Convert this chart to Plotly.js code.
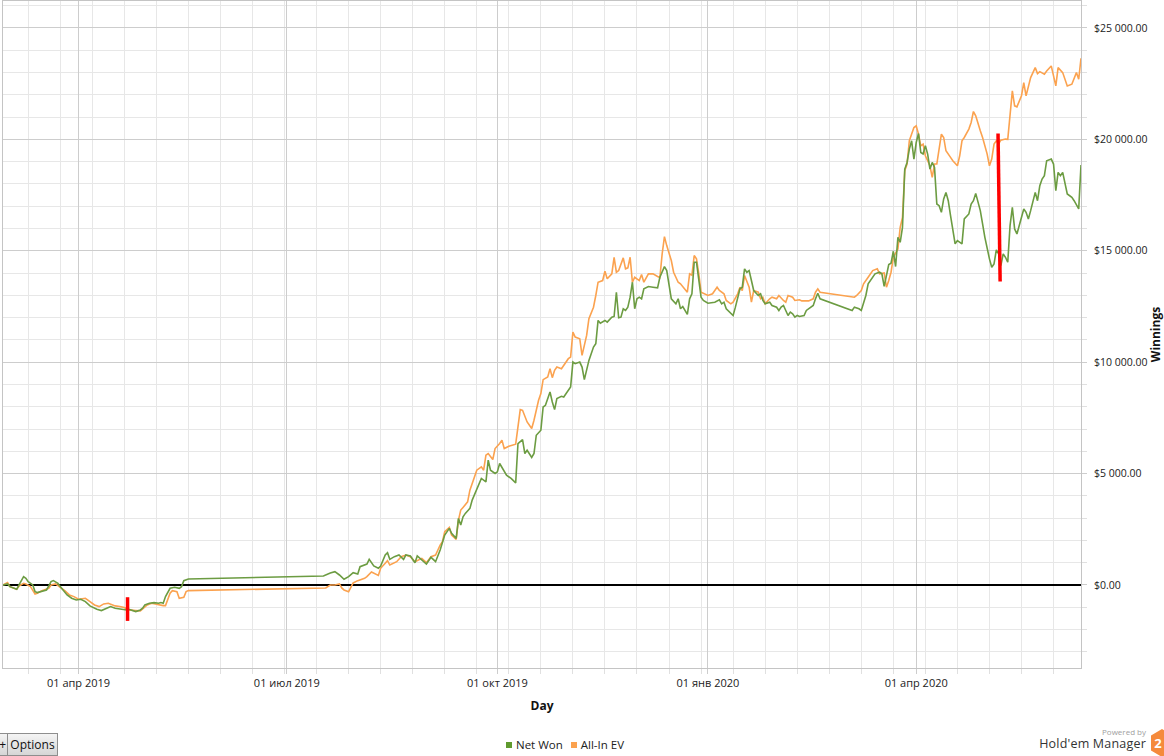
<!DOCTYPE html>
<html>
<head>
<meta charset="utf-8">
<script src="https://cdn.plot.ly/plotly-3.0.1.min.js"></script>
<style>
  html, body { margin: 0; padding: 0; background: #fff; overflow: hidden; }
  #wrap { position: relative; width: 1164px; height: 756px; overflow: hidden; }
  #chart { position: absolute; left: 0; top: 0; width: 1164px; height: 756px; }
  .btn { position: absolute; top: 733px; height: 23px; border: 1px solid #8e8e8e;
         background: linear-gradient(#f4f4f4, #d6d6d6); font-family: "Open Sans", sans-serif;
         font-size: 12px; color: #111; line-height: 21px; box-sizing: border-box; }
  #plusbtn { left: -12px; width: 20px; text-align: right; padding-right: 1px; }
  #optbtn { left: 7px; width: 51px; text-align: center; }
  #legend { position: absolute; left: 506px; top: 737px; font-family: "Open Sans", sans-serif;
            font-size: 11.5px; color: #222; white-space: nowrap; }
  #legend .sw { display: inline-block; width: 6px; height: 6px; margin-right: 4px; vertical-align: 1px; }
  #legend .item { margin-right: 8px; }
  #powered { position: absolute; right: 18px; top: 726px; font-family: "Open Sans", sans-serif;
             font-size: 8px; color: #a0a0a0; }
  #hem { position: absolute; right: 18px; top: 735px; font-family: "Open Sans", sans-serif;
         font-size: 12.5px; color: #333; letter-spacing: 0.2px; }
  #logo { position: absolute; left: 1150px; top: 728px; }
</style>
</head>
<body>
<div id="wrap">
  <div id="chart"></div>
  <div class="btn" id="plusbtn">+</div>
  <div class="btn" id="optbtn">Options</div>
  <div id="legend"></div>
  <div id="powered">Powered by</div>
  <div id="hem">Hold'em Manager</div>
  <svg id="logo" width="24" height="30" viewBox="0 0 24 30">
    <polygon points="12,1 23,7.5 23,22.5 12,29 1,22.5 1,7.5" fill="#f58a3c"/>
    <text x="8" y="20" text-anchor="middle" font-family="Open Sans, sans-serif" font-weight="bold" font-size="13" fill="#fff">2</text>
  </svg>
</div>
<script>
// ---------- DATA ----------
const netWonDates = [
  '2019-02-27','2019-03-01','2019-03-02','2019-03-05','2019-03-06','2019-03-07','2019-03-08','2019-03-09','2019-03-10','2019-03-12','2019-03-13','2019-03-14','2019-03-16','2019-03-18','2019-03-19','2019-03-20','2019-03-21','2019-03-23','2019-03-24','2019-03-26','2019-03-27','2019-03-29','2019-03-31',
  '2019-04-02','2019-04-04','2019-04-06','2019-04-09','2019-04-11','2019-04-13','2019-04-15','2019-04-17','2019-04-20','2019-04-22','2019-04-23','2019-04-25','2019-04-26','2019-04-28','2019-04-29','2019-04-30',
  '2019-05-02','2019-05-04','2019-05-06','2019-05-07','2019-05-08','2019-05-09','2019-05-10','2019-05-11','2019-05-13','2019-05-15','2019-05-16','2019-05-17','2019-05-19',
  '2019-07-17','2019-07-20','2019-07-22','2019-07-24','2019-07-26','2019-07-28','2019-07-30',
  '2019-08-01','2019-08-02','2019-08-05','2019-08-06','2019-08-08','2019-08-10','2019-08-11','2019-08-13','2019-08-14','2019-08-15','2019-08-17','2019-08-19','2019-08-21','2019-08-22','2019-08-24','2019-08-26','2019-08-27','2019-08-29','2019-08-31',
  '2019-09-02','2019-09-04','2019-09-06','2019-09-07','2019-09-08','2019-09-10','2019-09-11','2019-09-13','2019-09-14','2019-09-15','2019-09-16','2019-09-17','2019-09-19','2019-09-20','2019-09-22','2019-09-23','2019-09-24','2019-09-26','2019-09-27','2019-09-28','2019-09-30',
  '2019-10-01','2019-10-02','2019-10-05','2019-10-07','2019-10-09','2019-10-10','2019-10-12','2019-10-13','2019-10-14','2019-10-16','2019-10-17','2019-10-18','2019-10-20','2019-10-21','2019-10-22','2019-10-24','2019-10-25','2019-10-26','2019-10-27','2019-10-29','2019-10-30',
  '2019-11-01','2019-11-02','2019-11-03','2019-11-04','2019-11-06','2019-11-07','2019-11-08','2019-11-10','2019-11-12','2019-11-13','2019-11-14','2019-11-15','2019-11-17','2019-11-18','2019-11-20','2019-11-21','2019-11-22','2019-11-23','2019-11-24','2019-11-25','2019-11-26','2019-11-27','2019-11-28','2019-11-29','2019-11-30',
  '2019-12-01','2019-12-02','2019-12-03','2019-12-04','2019-12-06','2019-12-08','2019-12-10','2019-12-11','2019-12-13','2019-12-14','2019-12-15','2019-12-16','2019-12-18','2019-12-19','2019-12-20','2019-12-21','2019-12-23','2019-12-24','2019-12-25','2019-12-26','2019-12-27','2019-12-28','2019-12-29','2019-12-30',
  '2020-01-01','2020-01-04','2020-01-06','2020-01-07','2020-01-08','2020-01-09','2020-01-11','2020-01-12','2020-01-13','2020-01-14','2020-01-15','2020-01-16','2020-01-17','2020-01-18','2020-01-19','2020-01-20','2020-01-21','2020-01-23','2020-01-24','2020-01-25','2020-01-26','2020-01-28','2020-01-29','2020-01-31',
  '2020-02-01','2020-02-02','2020-02-03','2020-02-04','2020-02-05','2020-02-06','2020-02-07','2020-02-08','2020-02-09','2020-02-10','2020-02-12','2020-02-13','2020-02-14','2020-02-16','2020-02-17','2020-02-18','2020-02-19',
  '2020-03-04','2020-03-05','2020-03-07','2020-03-08','2020-03-10','2020-03-11','2020-03-13','2020-03-14','2020-03-16','2020-03-17','2020-03-18','2020-03-20','2020-03-21','2020-03-22','2020-03-23','2020-03-24','2020-03-25','2020-03-26','2020-03-27','2020-03-28','2020-03-29','2020-03-30','2020-03-31',
  '2020-04-01','2020-04-02','2020-04-03','2020-04-04','2020-04-05','2020-04-06','2020-04-07','2020-04-08','2020-04-09','2020-04-10','2020-04-11','2020-04-12','2020-04-13','2020-04-14','2020-04-15','2020-04-16','2020-04-17','2020-04-18','2020-04-19','2020-04-21','2020-04-22','2020-04-24','2020-04-25','2020-04-26','2020-04-27','2020-04-29','2020-04-30',
  '2020-05-01','2020-05-03','2020-05-04','2020-05-05','2020-05-06','2020-05-07','2020-05-08','2020-05-09','2020-05-10','2020-05-11','2020-05-12','2020-05-13','2020-05-14','2020-05-15','2020-05-17','2020-05-18','2020-05-19','2020-05-20','2020-05-21','2020-05-22','2020-05-23','2020-05-24','2020-05-25','2020-05-26','2020-05-27','2020-05-28','2020-05-30','2020-05-31',
  '2020-06-01','2020-06-02','2020-06-03','2020-06-04','2020-06-05','2020-06-06','2020-06-08','2020-06-09','2020-06-11','2020-06-12'
];
const netWonValues = [
  0,45,-75,-194,0,194,373,299,149,0,-299,-343,-299,-224,-45,149,194,75,-75,-299,-448,-597,-672,
  -642,-746,-940,-1090,-1150,-1045,-970,-1045,-1075,-1120,-1090,-1150,-1195,-1120,-1045,-896,
  -821,-791,-821,-791,-821,-523,-299,-149,-105,-149,-75,194,269,
  403,538,597,448,254,372,553,
  493,822,941,1150,851,747,851,1344,1448,1150,1270,1344,1150,1344,1300,1000,1300,1120,941,
  1240,1045,1568,1866,2240,2540,2316,2092,2988,2688,3060,3212,3436,3808,4332,4556,4780,4628,5600,5152,5004,
  5076,5452,4928,4780,4583,6348,6527,5900,6048,5721,5900,6720,6944,7988,8064,8660,8212,7870,8364,8468,8436,
  8736,8884,10004,9932,10004,9780,9215,10080,10676,10828,11872,11751,11872,11796,12020,12050,13140,11993,12020,12396,12320,12468,12916,13588,12396,
  12844,12916,12844,13292,13395,13364,13337,13812,14291,14112,13364,12844,12620,12844,12396,12499,12141,12844,13068,14484,14484,13664,12916,12768,
  12647,12692,12800,12620,12692,12396,12172,12096,12468,12916,13292,13364,14188,14036,14112,13664,13216,12992,13068,12768,12620,12692,12544,12468,
  12320,12468,12544,12320,12096,12244,12172,12020,12096,12050,12096,12320,12396,12544,12844,13095,12844,
  12320,12468,12396,12320,12992,13516,13812,13964,14036,13964,13400,14381,14440,14977,14291,15604,15380,16052,18668,18964,19564,19936,19116,
  19860,20264,19412,19340,19712,19340,18668,18964,18740,17100,17024,16724,17324,17620,17248,16576,15904,15308,15456,15308,16428,16652,17100,17248,17575,16800,16204,
  15604,14636,14260,14412,15040,14860,14336,14860,14708,14484,16128,16948,15980,15756,16500,16876,16724,16428,16800,17248,17620,17248,17920,18220,18368,19040,19116,18892,
  17696,18516,18368,18516,18068,17548,17396,17248,16876,18848
];

const allInEvDates = [
  '2019-02-27','2019-03-01','2019-03-02','2019-03-05','2019-03-06','2019-03-08','2019-03-09','2019-03-11','2019-03-13','2019-03-14','2019-03-16','2019-03-19','2019-03-20','2019-03-22','2019-03-24','2019-03-26','2019-03-28','2019-03-30',
  '2019-04-01','2019-04-04','2019-04-06','2019-04-08','2019-04-10','2019-04-12','2019-04-14','2019-04-17','2019-04-19','2019-04-21','2019-04-23','2019-04-25','2019-04-26','2019-04-28','2019-04-29',
  '2019-05-01','2019-05-03','2019-05-06','2019-05-08','2019-05-09','2019-05-10','2019-05-11','2019-05-12','2019-05-14','2019-05-15','2019-05-17','2019-05-18','2019-05-19',
  '2019-07-18','2019-07-20','2019-07-22','2019-07-24','2019-07-25','2019-07-26','2019-07-28','2019-07-29','2019-07-30',
  '2019-08-01','2019-08-04','2019-08-05','2019-08-07','2019-08-10','2019-08-11','2019-08-13','2019-08-14','2019-08-15','2019-08-18','2019-08-20','2019-08-22','2019-08-24','2019-08-26','2019-08-29','2019-08-31',
  '2019-09-02','2019-09-04','2019-09-06','2019-09-07','2019-09-08','2019-09-10','2019-09-11','2019-09-13','2019-09-14','2019-09-15','2019-09-16','2019-09-18','2019-09-19','2019-09-21','2019-09-22','2019-09-24','2019-09-25','2019-09-26','2019-09-27','2019-09-29','2019-09-30',
  '2019-10-02','2019-10-03','2019-10-04','2019-10-06','2019-10-09','2019-10-11','2019-10-12','2019-10-14','2019-10-16','2019-10-17','2019-10-19','2019-10-20','2019-10-21','2019-10-23','2019-10-24','2019-10-25','2019-10-26','2019-10-27','2019-10-29','2019-10-30',
  '2019-11-01','2019-11-02','2019-11-03','2019-11-04','2019-11-06','2019-11-07','2019-11-09','2019-11-10','2019-11-12','2019-11-13','2019-11-14','2019-11-16','2019-11-17','2019-11-18','2019-11-20','2019-11-21','2019-11-22','2019-11-23','2019-11-25','2019-11-26','2019-11-27','2019-11-28','2019-11-29','2019-11-30',
  '2019-12-02','2019-12-03','2019-12-04','2019-12-06','2019-12-08','2019-12-10','2019-12-11','2019-12-12','2019-12-13','2019-12-14','2019-12-16','2019-12-17','2019-12-19','2019-12-20','2019-12-22','2019-12-23','2019-12-24','2019-12-25','2019-12-26','2019-12-27','2019-12-28','2019-12-29',
  '2020-01-01','2020-01-03','2020-01-04','2020-01-05','2020-01-06','2020-01-08','2020-01-09','2020-01-11','2020-01-12','2020-01-14','2020-01-15','2020-01-16','2020-01-17','2020-01-18','2020-01-19','2020-01-20','2020-01-21','2020-01-23','2020-01-24','2020-01-25','2020-01-26','2020-01-28','2020-01-29','2020-01-31',
  '2020-02-01','2020-02-03','2020-02-04','2020-02-05','2020-02-07','2020-02-08','2020-02-10','2020-02-11','2020-02-13','2020-02-14','2020-02-16','2020-02-17','2020-02-18','2020-02-19',
  '2020-03-05','2020-03-06','2020-03-08','2020-03-09','2020-03-11','2020-03-12','2020-03-13','2020-03-15','2020-03-16','2020-03-18','2020-03-19','2020-03-20','2020-03-21','2020-03-22','2020-03-23','2020-03-24','2020-03-25','2020-03-26','2020-03-27','2020-03-28','2020-03-29','2020-03-30','2020-03-31',
  '2020-04-01','2020-04-02','2020-04-03','2020-04-04','2020-04-05','2020-04-06','2020-04-07','2020-04-08','2020-04-09','2020-04-10','2020-04-11','2020-04-12','2020-04-13','2020-04-14','2020-04-16','2020-04-17','2020-04-19','2020-04-20','2020-04-21','2020-04-22','2020-04-24','2020-04-25','2020-04-26','2020-04-27','2020-04-29','2020-04-30',
  '2020-05-02','2020-05-03','2020-05-04','2020-05-05','2020-05-06','2020-05-07','2020-05-08','2020-05-10','2020-05-11','2020-05-12','2020-05-13','2020-05-14','2020-05-15','2020-05-17','2020-05-18','2020-05-19','2020-05-21','2020-05-23','2020-05-24','2020-05-25','2020-05-27','2020-05-28','2020-05-30',
  '2020-06-01','2020-06-02','2020-06-04','2020-06-06','2020-06-08','2020-06-10','2020-06-11','2020-06-12'
];
const allInEvValues = [
  0,105,-75,-194,-45,75,45,-75,-403,-373,-254,-149,0,45,-105,-254,-448,-523,
  -642,-597,-746,-896,-970,-851,-821,-940,-970,-1015,-1120,-1120,-1150,-1165,-1075,
  -896,-821,-896,-926,-926,-597,-373,-254,-299,-597,-552,-299,-254,
  -134,0,0,45,-134,-224,-300,-76,90,
  193,300,372,580,430,747,972,1090,896,1045,1270,1344,1270,1045,1195,1000,
  1270,1344,1792,1941,2388,2584,2240,2048,2912,3360,3481,3732,4256,4852,5152,5300,5152,5824,5900,5631,6124,
  6348,6496,6124,6227,6317,7870,7840,7316,7020,7392,8288,8588,9215,9332,9708,9305,9632,9780,9708,9856,
  10156,10228,11348,11124,11052,10304,11200,11948,12468,12992,13588,13664,14080,13740,13964,14708,14036,14112,14680,14188,14233,14708,13588,13812,
  13664,13933,13588,13964,13964,13843,13800,14860,15635,15232,14560,14036,13588,13516,13292,13140,13964,13900,14784,14636,13964,13140,
  12992,13068,13216,13364,13216,13068,12768,12620,12692,13068,13364,13216,13888,13664,13364,12692,13216,13140,12844,12916,12620,12844,12916,12844,
  12992,12768,12692,12992,12916,12768,12800,12750,12768,12750,12844,13140,13292,13140,
  12916,12992,13216,13516,13812,13964,14112,14188,13964,14000,13364,13664,14036,14708,14900,15084,16052,16500,18592,18892,19936,20236,20532,
  20608,20236,19712,19788,19264,19040,18816,18292,18892,18892,19564,20236,20085,19488,19190,19040,18816,19264,19936,20085,20460,20756,21250,21056,20384,20085,
  19340,18816,19116,19788,19936,19800,19966,20012,20000,21000,22176,21504,21460,21952,22548,21952,22772,23220,22952,23040,22925,23072,23296,
  22400,23220,22996,22400,22475,22996,22697,23640
];

// red marker bars
const markerADates = ['2019-04-22 10:00','2019-04-22 10:00'];
const markerAValues = [-550, -1613];
const markerBDates = ['2020-05-06 18:00','2020-05-07 16:00'];
const markerBValues = [20265, 13620];

const xTickDates = ['2019-04-01','2019-07-01','2019-10-01','2020-01-01','2020-04-01'];
const xTickLabels = ['01 апр 2019','01 июл 2019','01 окт 2019','01 янв 2020','01 апр 2020'];
const yTickValues = [0, 5000, 10000, 15000, 20000, 25000];
const yTickLabels = ['$0.00','$5 000.00','$10 000.00','$15 000.00','$20 000.00','$25 000.00'];

const seriesNames = ['Net Won', 'All-In EV'];
const legendColors = ['#5f9a2e', '#fba24f'];

// ---------- CHART ----------
const GREEN = '#6c9c42', ORANGE = '#fba24f';
const FONT = '"Open Sans", "Noto Sans", sans-serif';

const traces = [
  { x: allInEvDates, y: allInEvValues, type: 'scatter', mode: 'lines', name: seriesNames[1],
    line: { color: ORANGE, width: 1.6 }, hoverinfo: 'skip' },
  { x: netWonDates, y: netWonValues, type: 'scatter', mode: 'lines', name: seriesNames[0],
    line: { color: GREEN, width: 1.6 }, hoverinfo: 'skip' },
  { x: markerADates, y: markerAValues, type: 'scatter', mode: 'lines',
    line: { color: '#ff0000', width: 3.5 }, hoverinfo: 'skip' },
  { x: markerBDates, y: markerBValues, type: 'scatter', mode: 'lines',
    line: { color: '#ff0000', width: 3.5 }, hoverinfo: 'skip' }
];

const layout = {
  width: 1164, height: 756,
  margin: { l: 3, r: 83, t: 1, b: 88, autoexpand: false },
  paper_bgcolor: '#ffffff', plot_bgcolor: '#ffffff',
  font: { family: FONT, size: 11, color: '#222' },
  showlegend: false,
  xaxis: {
    type: 'date',
    range: ['2019-02-27', '2020-06-12'],
    tickmode: 'array', tickvals: xTickDates, ticktext: xTickLabels,
    showgrid: true, gridcolor: '#cdcdcd', gridwidth: 1,
    ticks: 'outside', ticklen: 5, tickcolor: '#cdcdcd',
    minor: { tick0: '2019-03-10', dtick: 14 * 86400000, showgrid: true, gridcolor: '#e7e7e7',
             ticks: 'outside', ticklen: 5, tickcolor: '#e0e0e0' },
    showline: true, linecolor: '#c4c4c4', linewidth: 1, mirror: true,
    zeroline: false, automargin: false,
    tickfont: { family: FONT, size: 11, color: '#222' },
    title: { text: 'Day', font: { family: FONT, size: 12, color: '#111', weight: 'bold' }, standoff: 12 }
  },
  yaxis: {
    side: 'right',
    range: [-3727, 26210],
    tickmode: 'array', tickvals: yTickValues, ticktext: yTickLabels,
    showgrid: true, gridcolor: '#cdcdcd', gridwidth: 1,
    ticks: 'outside', ticklen: 5, tickcolor: '#cdcdcd', ticklabelstandoff: 5,
    minor: { dtick: 1000, tick0: 0, showgrid: true, gridcolor: '#e7e7e7',
             ticks: 'outside', ticklen: 5, tickcolor: '#e0e0e0' },
    showline: true, linecolor: '#c4c4c4', linewidth: 1, mirror: true,
    zeroline: true, zerolinecolor: '#000000', zerolinewidth: 2,
    automargin: false,
    tickfont: { family: FONT, size: 10.5, color: '#222' },
    title: { text: 'Winnings', font: { family: FONT, size: 12, color: '#111', weight: 'bold' }, standoff: 14 }
  }
};

// HTML legend built from the series names/colours
const legendEl = document.getElementById('legend');
seriesNames.forEach((n, i) => {
  const item = document.createElement('span');
  item.className = 'item';
  item.innerHTML = '<span class="sw" style="background:' + legendColors[i] + '"></span>' + n;
  legendEl.appendChild(item);
});

Plotly.newPlot('chart', traces, layout, { displayModeBar: false, staticPlot: true });
</script>
</body>
</html>
